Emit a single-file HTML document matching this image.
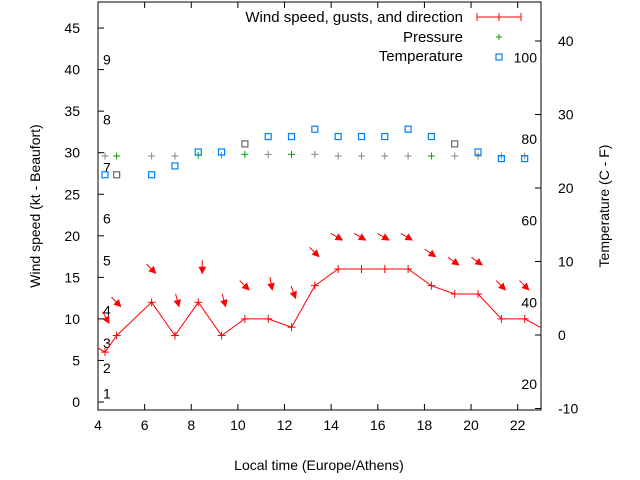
<!DOCTYPE html>
<html><head><meta charset="utf-8"><style>
html,body{margin:0;padding:0;background:#fff;}
svg{display:block;font-family:"Liberation Sans",sans-serif;}
</style></head><body>
<svg id="chart" width="640" height="480" xmlns="http://www.w3.org/2000/svg"></svg>
<script>
const hours=[4.3,4.8,6.3,7.3,8.3,9.3,10.3,11.3,12.3,13.3,14.3,15.3,16.3,17.3,18.3,19.3,20.3,21.3,22.3,23.3];
const windKt=[6,8,12,8,12,8,10,10,9,14,16,16,16,16,14,13,13,10,10,8.5];
const windDirDeg=[330,315,315,345,0,345,315,350,340,315,300,300,300,300,305,305,305,315,315,315];
const pressureHours=[4.3,4.8,6.3,7.3,8.3,9.3,10.3,11.3,12.3,13.3,14.3,15.3,16.3,17.3,18.3,19.3,20.3,21.3,22.3];
const pressure=[29.6,29.6,29.6,29.6,29.7,29.7,29.8,29.8,29.8,29.8,29.6,29.6,29.6,29.6,29.6,29.6,29.6,29.6,29.6];
const pressureGray=[1,0,1,1,0,1,0,1,0,1,1,1,1,1,0,1,1,1,1];
const tempHours=[4.3,4.8,6.3,7.3,8.3,9.3,10.3,11.3,12.3,13.3,14.3,15.3,16.3,17.3,18.3,19.3,20.3,21.3,22.3];
const tempC=[21.8,21.8,21.8,23,24.9,24.9,26,27,27,28,27,27,27,28,27,26,24.9,24,24];
const tempGray=[0,1,0,0,0,0,1,0,0,0,0,0,0,0,0,1,0,0,0];
const xTicks=[4,6,8,10,12,14,16,18,20,22];
const yTicks=[0,5,10,15,20,25,30,35,40,45];
const y2Ticks=[-10,0,10,20,30,40];
const beaufort=[1,2,3,4,5,6,7,8,9];
const beaufortKt=[1,4.1,7.1,11,17,22.1,28.2,34,41.2];
const fahrenheit=[20,40,60,80,100];

const L=98,R=541,T=2,B=410;
const X=h=>L+(h-4)*(R-L)/(23-4);
const Y=v=>402-v*8.31;
const Y2=c=>335-c*7.35;
const svg=document.getElementById('chart');
const NS='http://www.w3.org/2000/svg';
function mk(tag,attrs,parent){const e=document.createElementNS(NS,tag);for(const k in attrs)e.setAttribute(k,attrs[k]);(parent||svg).appendChild(e);return e;}
function txt(s,x,y,anchor,parent,size){const t=mk('text',{x:x,y:y,'text-anchor':anchor||'start','font-size':size||14,fill:'#000'},parent);t.textContent=s;return t;}

const clip=mk('clipPath',{id:'pc'});mk('rect',{x:L,y:T,width:R-L,height:B-T},clip);

const axes=mk('g',{});


mk('rect',{x:L,y:T,width:R-L,height:B-T,fill:'none',stroke:'#000','stroke-width':1},axes);
xTicks.forEach(h=>{
  mk('line',{x1:X(h),y1:B,x2:X(h),y2:B-6,stroke:'#000'},axes);
  mk('line',{x1:X(h),y1:T,x2:X(h),y2:T+6,stroke:'#000'},axes);
  const t=txt(String(h),X(h),430,'middle',axes);
  
  
});
yTicks.forEach(v=>{
  mk('line',{x1:L,y1:Y(v),x2:L+6,y2:Y(v),stroke:'#000'},axes);
  const t=txt(String(v),80,Y(v)+5,'end',axes);
  
  
});
y2Ticks.forEach(v=>{
  mk('line',{x1:R,y1:Y2(v),x2:R-6,y2:Y2(v),stroke:'#000'},axes);
  const t=txt(String(v),558,Y2(v)+5,'start',axes);
  
  
});
beaufort.forEach((b,i)=>{
  const t=txt(String(b),103,Y(beaufortKt[i])+5,'start',axes);
  
  
});
fahrenheit.forEach(f=>{
  const t=txt(String(f),537,Y2((f-32)*5/9)+5,'end',axes);
  
  
});
const xt=txt('Local time (Europe/Athens)',319,470,'middle');


const yt=txt('Wind speed (kt - Beaufort)',0,0,'middle');
yt.setAttribute('transform','translate(40,206) rotate(-90)');


const y2t=txt('Temperature (C - F)',0,0,'middle');
y2t.setAttribute('transform','translate(609,206) rotate(-90)');



const plot=mk('g',{'clip-path':'url(#pc)'});
pressureHours.forEach((h,i)=>{
  const x=X(h),y=Y(pressure[i]);const c=pressureGray[i]?'#888':'#00a000';
  const g=mk('g',{stroke:c},plot);
  
  
  mk('line',{x1:x-3.5,y1:y,x2:x+3.5,y2:y},g);mk('line',{x1:x,y1:y-3.5,x2:x,y2:y+3.5},g);
});
tempHours.forEach((h,i)=>{
  const r=mk('rect',{x:X(h)-3,y:Y2(tempC[i])-3,width:6,height:6,fill:'none',stroke:tempGray[i]?'#666':'#0080ff','stroke-width':1.2},plot);
  
  
});
let d='M'+L+' '+Y(6.5);
hours.forEach((h,i)=>{d+=' L'+X(h).toFixed(1)+' '+Y(windKt[i]).toFixed(1);});
const wl=mk('path',{d:d,fill:'none',stroke:'#f00','stroke-width':1},plot);


hours.forEach((h,i)=>{
  const x=X(h),y=Y(windKt[i]);
  const g=mk('g',{stroke:'#f00'},plot);
  
  
  mk('line',{x1:x-4,y1:y,x2:x+4,y2:y},g);mk('line',{x1:x,y1:y-4,x2:x,y2:y+4},g);
  const a=windDirDeg[i]*Math.PI/180;
  const dx=-Math.sin(a),dy=Math.cos(a);
  const tx=x+4,ty=Y(windKt[i]+3.5);
  const sx=tx-dx*13,sy=ty-dy*13;
  const ag=mk('g',{stroke:'#f00',fill:'#f00'},plot);
  
  
  mk('line',{x1:sx,y1:sy,x2:tx,y2:ty,'stroke-width':1},ag);
  const px=-dy,py=dx;
  mk('polygon',{points:`${tx},${ty} ${tx-dx*6+px*3},${ty-dy*6+py*3} ${tx-dx*6-px*3},${ty-dy*6-py*3}`},ag);
});

const lg=mk('g',{});


txt('Wind speed, gusts, and direction',463,22,'end',lg,15);
mk('line',{x1:477,y1:17,x2:521,y2:17,stroke:'#f00'},lg);
mk('line',{x1:477,y1:13,x2:477,y2:21,stroke:'#f00'},lg);
mk('line',{x1:521,y1:13,x2:521,y2:21,stroke:'#f00'},lg);
mk('line',{x1:499,y1:13,x2:499,y2:21,stroke:'#f00'},lg);
txt('Pressure',463,42,'end',lg,15);
mk('line',{x1:496,y1:37,x2:502,y2:37,stroke:'#00a000'},lg);
mk('line',{x1:499,y1:34,x2:499,y2:40,stroke:'#00a000'},lg);
txt('Temperature',463,61,'end',lg,15);
mk('rect',{x:496,y:54,width:6,height:6,fill:'none',stroke:'#0080ff','stroke-width':1.2},lg);
</script>
</body></html>
